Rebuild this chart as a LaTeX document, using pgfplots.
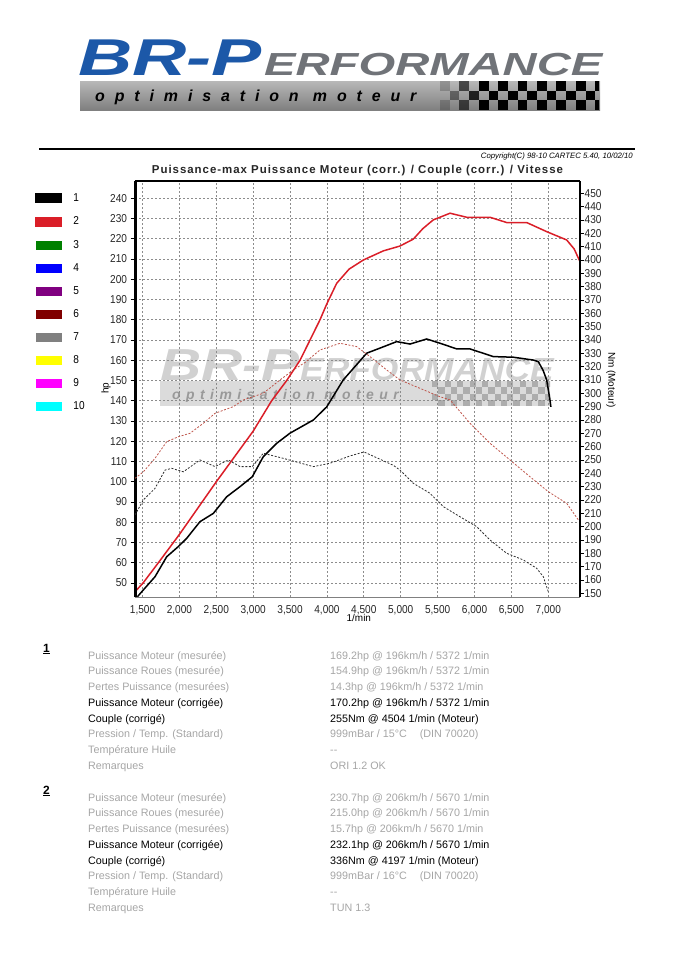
\documentclass[border=0pt]{standalone}
\usepackage{pgfplots}
\pgfplotsset{compat=1.18}
\usepackage{pgfplotstable}
\usepackage{fontspec}
\setmainfont{Liberation Sans}
\newfontfamily\tickfont[FakeStretch=0.88]{Liberation Sans}

\definecolor{runB}{RGB}{218,30,40}
\definecolor{tqB}{RGB}{190,85,75}
\definecolor{tqA}{RGB}{45,45,45}
\definecolor{txtgray}{RGB}{165,165,165}
\definecolor{gridgray}{RGB}{140,140,140}
\definecolor{logoblue}{RGB}{28,88,168}
\definecolor{logogray}{RGB}{112,115,120}
\definecolor{leg3}{RGB}{0,128,0}
\definecolor{leg4}{RGB}{0,0,255}
\definecolor{leg5}{RGB}{128,0,128}
\definecolor{leg6}{RGB}{128,0,0}
\definecolor{leg7}{RGB}{128,128,128}
\definecolor{leg8}{RGB}{255,255,0}
\definecolor{leg9}{RGB}{255,0,255}
\definecolor{leg10}{RGB}{0,255,255}

% puissance (hp) run 1 / run 2
\pgfplotstableread{
rpm hp
1430 43.2
1511 46.6
1669 53.1
1828 63.0
1985 68.0
2099 72.1
2279 80.3
2460 84.4
2641 92.6
2822 97.6
2988 102.5
3137 112.4
3319 119.0
3499 124.0
3815 130.5
3997 137.0
4221 150.3
4539 163.5
4719 166.0
4945 169.2
5126 168.0
5352 170.5
5532 168.4
5759 165.6
5939 165.6
6255 161.8
6526 161.5
6797 160.1
6865 159.3
6930 155.0
6978 150.3
7023 140.4
7035 137.0
}\pwrA

\pgfplotstableread{
rpm hp
1398 45.7
1511 50.2
1700 59.3
2000 74.0
2250 87.0
2500 100.0
2750 112.5
3000 125.0
3250 140.0
3454 150.0
3635 160.0
3906 180.0
4000 188.0
4132 198.0
4300 205.0
4493 209.5
4764 214.0
4990 216.4
5170 219.8
5300 225.0
5441 229.3
5668 232.6
5894 230.6
6210 230.6
6436 228.0
6707 228.0
6978 223.5
7249 219.4
7350 215.0
7430 208.7
}\pwrB

% couple (Nm) run 1 / run 2
\pgfplotstableread{
rpm nm
1398 208.7
1511 220.0
1669 228.7
1805 242.4
1896 243.7
2053 241.1
2279 250.0
2483 245.0
2663 250.0
2822 245.0
2988 245.0
3137 255.0
3408 251.2
3815 245.0
4041 247.5
4312 253.0
4502 256.0
4899 246.0
4990 242.4
5170 232.5
5396 225.0
5577 215.0
5803 207.4
6029 200.0
6210 190.0
6436 180.0
6662 175.0
6843 168.7
6933 162.4
7000 151.1
}\tqAtab

\pgfplotstableread{
rpm nm
1398 236.2
1511 241.1
1669 251.2
1828 263.7
1985 267.4
2144 270.0
2324 277.5
2483 285.0
2731 290.0
2866 295.0
3137 300.0
3364 310.0
3544 317.5
3700 323.0
3906 332.5
4177 337.5
4403 335.0
4583 327.5
4809 317.5
4990 310.0
5261 303.7
5532 297.4
5668 295.0
5939 277.5
6210 262.5
6481 250.0
6752 237.4
7000 226.2
7249 217.5
7408 205.0
}\tqBtab

\begin{document}
\begin{tikzpicture}
\begin{scope}[x=1bp,y=-1bp]
\path[use as bounding box] (0,0) rectangle (679,960);

% logo en tete
\node[anchor=base west,inner sep=0pt,text=logoblue] at (78,75)
  {\scalebox{1.45}[1]{\fontsize{52}{52}\selectfont\bfseries\itshape BR-P}};
\node[anchor=base west,inner sep=0pt,text=logogray] at (264,75)
  {\scalebox{1.48}[1]{\fontsize{32}{32}\selectfont\bfseries\itshape ERFORMANCE}};
\shade[top color=black!28,bottom color=black!50] (80,81) rectangle (600,110);
\node[anchor=base west,inner sep=0pt] at (95,101)
  {\fontsize{16}{16}\selectfont\bfseries\itshape\addfontfeature{LetterSpace=62}optimisation moteur};
\begin{scope}
\clip (440,81) rectangle (599,110);
\foreach \i in {0,...,16}{
  \foreach \j in {0,...,2}{
    \pgfmathtruncatemacro{\odd}{mod(\i+\j,2)}
    \ifnum\odd=0
      \pgfmathsetmacro{\op}{min(1,(\i+1)/5)}
      \fill[black,opacity=\op] ({440+9.7*\i},{81+9.7*\j}) rectangle +(9.7,9.7);
    \fi
  }
}
\end{scope}

% filet + copyright
\draw[black,line width=1.8bp] (39,149.3) -- (635,149.3);
\node[anchor=base east,inner sep=0pt] at (633,158)
  {\fontsize{7.8}{8}\selectfont\itshape Copyright(C) 98-10 CARTEC 5.40, 10/02/10};

% filigrane
\node[anchor=base west,inner sep=0pt,text=black!18] at (160,380)
  {\scalebox{1.27}[1]{\fontsize{45}{45}\selectfont\bfseries\itshape BR-P}};
\node[anchor=base west,inner sep=0pt,text=black!18] at (300,380)
  {\scalebox{1.11}[1]{\fontsize{32}{32}\selectfont\bfseries\itshape ERFORMANCE}};
\fill[black!14] (160,381) rectangle (550,406);
\node[anchor=base west,inner sep=0pt,text=black!40] at (172,399)
  {\fontsize{14}{14}\selectfont\bfseries\itshape\addfontfeature{LetterSpace=39}optimisation moteur};
\begin{scope}
\clip (432,381) rectangle (550,406);
\foreach \i in {0,...,19}{
  \foreach \j in {0,...,3}{
    \pgfmathtruncatemacro{\odd}{mod(\i+\j,2)}
    \ifnum\odd=0
      \fill[black!32] ({432+6.25*\i},{381+6.25*\j}) rectangle +(6.25,6.25);
    \fi
  }
}
\end{scope}

% tableau des resultats
\newcommand{\resblock}[3]{%
  \node[anchor=base west,inner sep=0pt] at (43,#1)
    {\fontsize{12}{12}\selectfont\bfseries\underline{#2}};
  \foreach \lab/\val/\col [count=\k from 0] in {#3}{
    \node[anchor=base west,inner sep=0pt,text=\col] at (88,{#1+7+15.75*\k})
      {\fontsize{10.8}{11}\selectfont\lab};
    \node[anchor=base west,inner sep=0pt,text=\col] at (330,{#1+7+15.75*\k})
      {\fontsize{10.8}{11}\selectfont\val};
  }
}
\resblock{652}{1}{
  {Puissance Moteur (mesurée)}/{169.2hp @ 196km/h / 5372 1/min}/txtgray,
  {Puissance Roues (mesurée)}/{154.9hp @ 196km/h / 5372 1/min}/txtgray,
  {Pertes Puissance (mesurées)}/{14.3hp @ 196km/h / 5372 1/min}/txtgray,
  {Puissance Moteur (corrigée)}/{170.2hp @ 196km/h / 5372 1/min}/black,
  {Couple (corrigé)}/{255Nm @ 4504 1/min (Moteur)}/black,
  {Pression / Temp. (Standard)}/{999mBar / 15°C\hspace{1.2em}(DIN 70020)}/txtgray,
  {Température Huile}/{{-}{-}}/txtgray,
  {Remarques}/{ORI 1.2 OK}/txtgray}
\resblock{794}{2}{
  {Puissance Moteur (mesurée)}/{230.7hp @ 206km/h / 5670 1/min}/txtgray,
  {Puissance Roues (mesurée)}/{215.0hp @ 206km/h / 5670 1/min}/txtgray,
  {Pertes Puissance (mesurées)}/{15.7hp @ 206km/h / 5670 1/min}/txtgray,
  {Puissance Moteur (corrigée)}/{232.1hp @ 206km/h / 5670 1/min}/black,
  {Couple (corrigé)}/{336Nm @ 4197 1/min (Moteur)}/black,
  {Pression / Temp. (Standard)}/{999mBar / 16°C\hspace{1.2em}(DIN 70020)}/txtgray,
  {Température Huile}/{{-}{-}}/txtgray,
  {Remarques}/{TUN 1.3}/txtgray}
\end{scope}

% puissance (axe gauche)
\begin{axis}[
  at={(135bp,-597bp)}, anchor=south west,
  scale only axis, width=445bp, height=416bp,
  xmin=1398, xmax=7430, ymin=43.1, ymax=248.5,
  axis line style={draw=none},
  xtick={1500,2000,...,7000},
  ytick={50,60,...,240},
  scaled x ticks=false,
  grid=major,
  major grid style={gridgray, dash pattern=on 2bp off 2bp, line width=0.7bp},
  tick align=outside,
  ytick pos=left, xtick pos=bottom,
  xtick style={draw=none},
  ytick style={black, line width=0.8bp},
  major tick length=4.5bp,
  ticklabel style={font=\tickfont\fontsize{11.5}{12}\selectfont, text=black!85},
  /pgf/number format/assume math mode=true,
  /pgf/number format/1000 sep={,},
  title={\fontsize{11.5}{12}\selectfont\bfseries\addfontfeature{LetterSpace=8.5}Puissance-max Puissance Moteur (corr.) / Couple (corr.) / Vitesse},
  every axis title shift=0pt,
  title style={at={(axis description cs:0.5,1.0248)}, anchor=center, inner sep=0pt, text=black!85},
  xlabel={1/min},
  xlabel style={at={(axis description cs:0.503,-0.0505)}, anchor=center, inner sep=0pt, font=\fontsize{10}{10}\selectfont},
  ylabel={hp},
  ylabel style={at={(axis description cs:-0.0652,0.502)}, anchor=center, inner sep=0pt, font=\fontsize{10}{10}\selectfont},
  legend style={at={(axis description cs:-0.2247,0.971)}, anchor=north west,
    draw=none, fill=none, inner sep=0pt, row sep=13.6bp, column sep=11bp,
    font=\tickfont\fontsize{11.5}{12}\selectfont,
    nodes={inner sep=0pt}},
  legend cell align=left,
  legend image code/.code={\fill (0bp,-4.2bp) rectangle (25.7bp,4.2bp);},
  after end axis/.code={
    \draw[black, line width=3bp] (rel axis cs:0,0) -- (rel axis cs:0,1);
    \draw[black, line width=1.6bp] (rel axis cs:0,1) -- (rel axis cs:1,1);
    \draw[gray, line width=1bp] (rel axis cs:0,0) -- (rel axis cs:1,0);
    \draw[black, line width=2.6bp] (rel axis cs:1,0) -- (rel axis cs:1,1);
  },
]
\addplot[color=black, line width=1.5bp] table[x=rpm,y=hp] {\pwrA};
\addlegendentry{1}
\addplot[color=runB, line width=1.5bp] table[x=rpm,y=hp] {\pwrB};
\addlegendentry{2}
\addlegendimage{color=leg3}\addlegendentry{3}
\addlegendimage{color=leg4}\addlegendentry{4}
\addlegendimage{color=leg5}\addlegendentry{5}
\addlegendimage{color=leg6}\addlegendentry{6}
\addlegendimage{color=leg7}\addlegendentry{7}
\addlegendimage{color=leg8}\addlegendentry{8}
\addlegendimage{color=leg9}\addlegendentry{9}
\addlegendimage{color=leg10}\addlegendentry{10}
\end{axis}

% couple (axe droit)
\begin{axis}[
  at={(135bp,-597bp)}, anchor=south west,
  scale only axis, width=445bp, height=416bp,
  xmin=1398, xmax=7430, ymin=147.2, ymax=459.2,
  axis x line=none, axis y line*=right,
  axis line style={draw=none},
  ytick={150,160,...,450},
  tick align=outside,
  ytick style={black, line width=0.8bp},
  major tick length=3.5bp,
  ticklabel style={font=\tickfont\fontsize{11.5}{12}\selectfont, text=black!85},
  yticklabel style={inner xsep=1bp},
  /pgf/number format/assume math mode=true,
  ylabel={Nm (Moteur)},
  ylabel style={at={(axis description cs:1.0697,0.5216)}, anchor=center, rotate=180, inner sep=0pt, font=\fontsize{10}{10}\selectfont},
]
\addplot[color=tqA, line width=0.8bp, dash pattern=on 2bp off 1.6bp] table[x=rpm,y=nm] {\tqAtab};
\addplot[color=tqB, line width=0.8bp, dash pattern=on 2bp off 1.6bp] table[x=rpm,y=nm] {\tqBtab};
\end{axis}
\end{tikzpicture}
\end{document}
